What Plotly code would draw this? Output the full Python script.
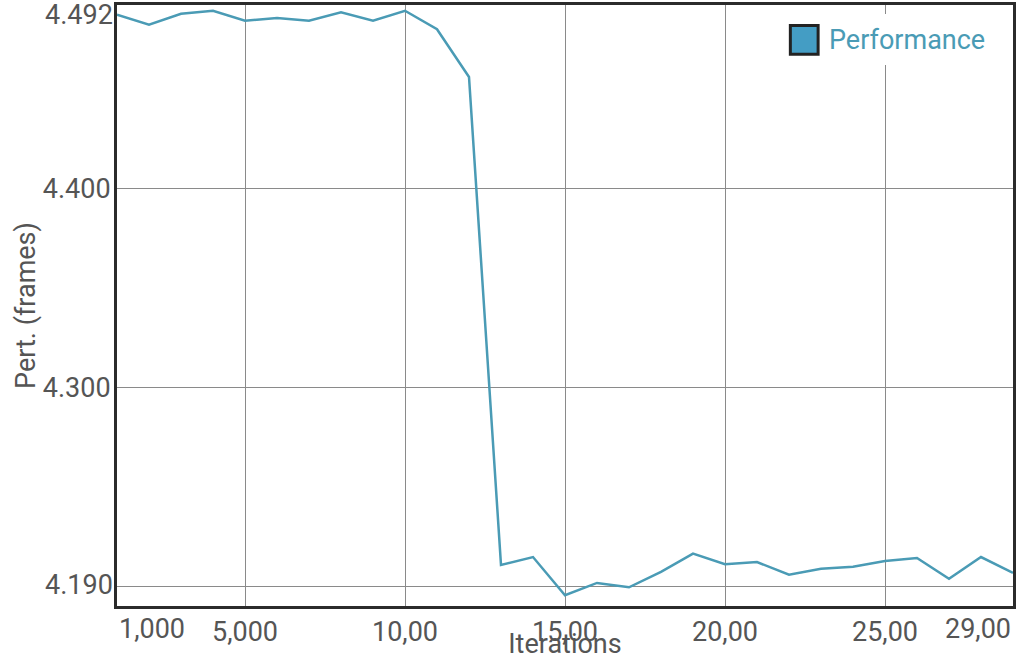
import plotly.graph_objects as go

# ---- data ----
iterations = [1000 * i for i in range(1, 30)]
performance = [
    4.4871, 4.4821, 4.4876, 4.4891, 4.4841, 4.4855, 4.4841, 4.4883, 4.4841, 4.4891,
    4.4798, 4.4558, 4.2106, 4.2146, 4.1954, 4.2016, 4.1994, 4.2072, 4.2163, 4.2110,
    4.2121, 4.2057, 4.2087, 4.2097, 4.2126, 4.2141, 4.2037, 4.2146, 4.2067,
]
x_tick_vals = [5000, 10000, 15000, 20000, 25000]
x_tick_text = ["5,000", "10,00", "15,00", "20,00", "25,00"]
x_min, x_max = 1000, 29000
x_min_text, x_max_text = "1,000", "29,00"
y_tick_vals = [4.2, 4.3, 4.4]
y_tick_text = ["", "4.300", "4.400"]
y_min, y_max = 4.190, 4.492
y_min_text, y_max_text = "4.190", "4.492"
series_name = "Performance"

LINE = "#4a9bb5"
SQUARE = "#449dc4"
TXT = "#555555"
FONT = "Roboto"
FS = 27

fig = go.Figure()
fig.add_trace(go.Scatter(
    x=iterations, y=performance, mode="lines", name=series_name,
    line=dict(color=LINE, width=2.5), showlegend=False,
))

axis_common = dict(
    showline=True, mirror=True, linecolor="#2b2b2b", linewidth=3,
    showgrid=True, gridcolor="#8a8a8a", gridwidth=1, zeroline=False,
    ticks="", tickfont=dict(family=FONT, size=FS, color=TXT), automargin=False,
)
fig.update_xaxes(
    range=[x_min, x_max], tickmode="array", tickvals=x_tick_vals, ticktext=x_tick_text,
    title=dict(text="Iterations", font=dict(family=FONT, size=FS, color=TXT), standoff=0),
    **axis_common,
)
fig.update_yaxes(
    range=[y_min, y_max], tickmode="array", tickvals=y_tick_vals, ticktext=y_tick_text,
    title=dict(text="Pert. (frames)", font=dict(family=FONT, size=FS, color=TXT), standoff=0),
    ticklabelstandoff=-2,
    **axis_common,
)

annotations = [
    dict(x=x_min, y=0, xref="x", yref="paper", text=x_min_text, showarrow=False,
         xanchor="left", yanchor="top", yshift=-5, font=dict(family=FONT, size=FS, color=TXT)),
    dict(x=x_max, y=0, xref="x", yref="paper", text=x_max_text, showarrow=False,
         xanchor="right", yanchor="top", yshift=-5, font=dict(family=FONT, size=FS, color=TXT)),
    dict(x=0, y=y_min, xref="paper", yref="y", text=y_min_text, showarrow=False,
         xanchor="right", yanchor="bottom", xshift=-2, yshift=3, font=dict(family=FONT, size=FS, color=TXT)),
    dict(x=0, y=y_max, xref="paper", yref="y", text=y_max_text, showarrow=False,
         xanchor="right", yanchor="top", xshift=-2, yshift=8, font=dict(family=FONT, size=FS, color=TXT)),
    dict(x=0.7925, y=0.9418, xref="paper", yref="paper", text=series_name, showarrow=False,
         xanchor="left", yanchor="middle", font=dict(family=FONT, size=FS, color=LINE)),
]

shapes = [
    dict(type="rect", xref="paper", yref="paper", x0=0.734, x1=0.985, y0=0.90, y1=0.985,
         fillcolor="white", line=dict(width=0), layer="above"),
    dict(type="rect", xref="paper", yref="paper", x0=0.7515, x1=0.7825, y0=0.918, y1=0.966,
         fillcolor=SQUARE, line=dict(color="#222222", width=3), layer="above"),
]

fig.update_layout(
    width=1025, height=660,
    margin=dict(l=117, r=12, t=5, b=54, autoexpand=False),
    paper_bgcolor="white", plot_bgcolor="white",
    showlegend=False,
    annotations=annotations, shapes=shapes,
    font=dict(family=FONT, color=TXT),
)

fig.write_html(
    "out.html",
    config={"displayModeBar": False},
    post_script="document.body.style.margin='0';document.body.style.overflow='hidden';",
)
